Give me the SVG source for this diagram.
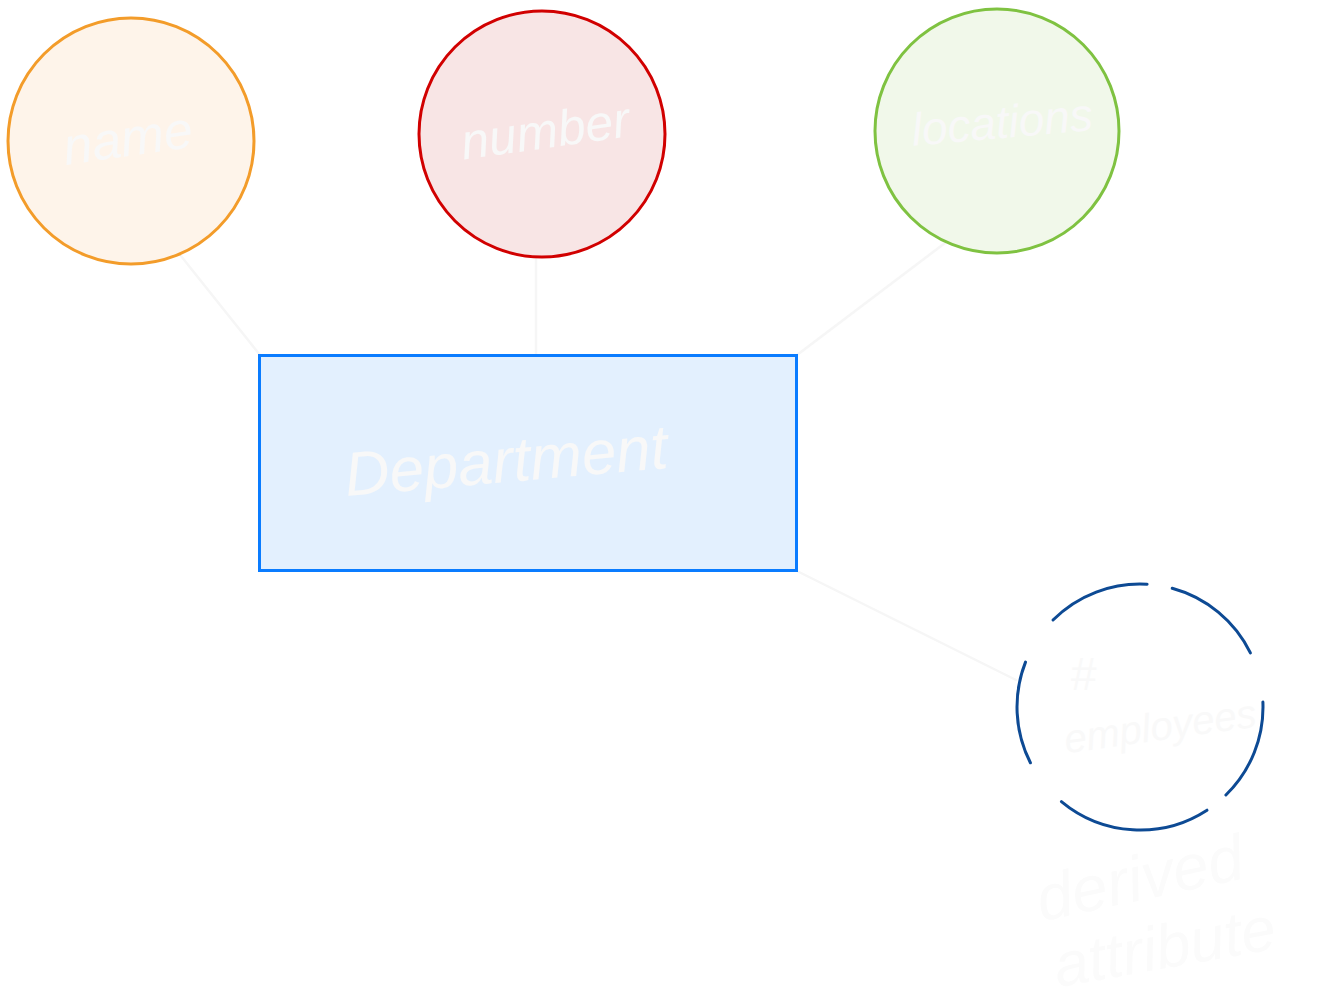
<svg xmlns="http://www.w3.org/2000/svg" width="1318" height="1000" viewBox="0 0 1318 1000">
<style>
.lbl{font-family:"Liberation Sans","DejaVu Sans",sans-serif;fill:#f8f8f8;text-anchor:middle;font-style:italic}
.conn{stroke:#f6f6f6;stroke-width:2.5;fill:none;stroke-linecap:round}
.attr{stroke-width:3}
.dash{fill:none;stroke:#0d4a94;stroke-width:3;stroke-linecap:round}
</style>
<rect width="1318" height="1000" fill="#ffffff"/>
<g id="connectors">
<line class="conn" x1="181" y1="256" x2="260" y2="355"/>
<line class="conn" x1="536" y1="257" x2="536" y2="355"/>
<line class="conn" x1="945" y1="243" x2="797" y2="355"/>
<line class="conn" x1="797" y1="571" x2="1016" y2="680"/>
</g>
<g id="node-name">
<circle class="attr" cx="131" cy="141" r="123" fill="#fef4ea" stroke="#f39c2a"/>
<text class="lbl" x="128" y="156" font-size="52" transform="rotate(-8 128 140)">name</text>
</g>
<g id="node-number">
<circle class="attr" cx="542" cy="134" r="123" fill="#f8e5e5" stroke="#d10000"/>
<text class="lbl" x="545" y="148" font-size="50" transform="rotate(-8 545 130)">number</text>
</g>
<g id="node-locations">
<circle class="attr" cx="997" cy="131" r="122" fill="#f1f8ea" stroke="#7fc241"/>
<text class="lbl" x="1002" y="138" font-size="46" transform="rotate(-5 1002 122)">locations</text>
</g>
<g id="node-department">
<rect x="259.5" y="355.5" width="537" height="215" fill="#e3f0fe" stroke="#0a7cff" stroke-width="3"/>
<text class="lbl" x="506" y="482" font-size="62" transform="rotate(-5 506 460)">Department</text>
</g>
<g id="node-employees">
<path class="dash" d="M1053,620 A123,123 0 0 1 1147.1,584.2"/>
<path class="dash" d="M1172.2,588.3 A123,123 0 0 1 1250.4,652.9"/>
<path class="dash" d="M1262.9,702.1 A123,123 0 0 1 1225.9,795"/>
<path class="dash" d="M1207,810.2 A123,123 0 0 1 1061.4,801.6"/>
<path class="dash" d="M1030.4,762.8 A123,123 0 0 1 1025.5,662.1"/>
<text class="lbl" x="1083" y="690" font-size="46" style="fill:#f9f9f9">#</text>
<text class="lbl" x="1160" y="740" font-size="40" transform="rotate(-8 1160 725)" style="fill:#f9f9f9">employees</text>
</g>
<g id="note-derived">
<text class="lbl" x="1140" y="900" font-size="64" transform="rotate(-12 1140 880)" style="fill:#fbfbfb">derived</text>
<text class="lbl" x="1165" y="968" font-size="62" transform="rotate(-10 1165 950)" style="fill:#fbfbfb">attribute</text>
</g>
</svg>
